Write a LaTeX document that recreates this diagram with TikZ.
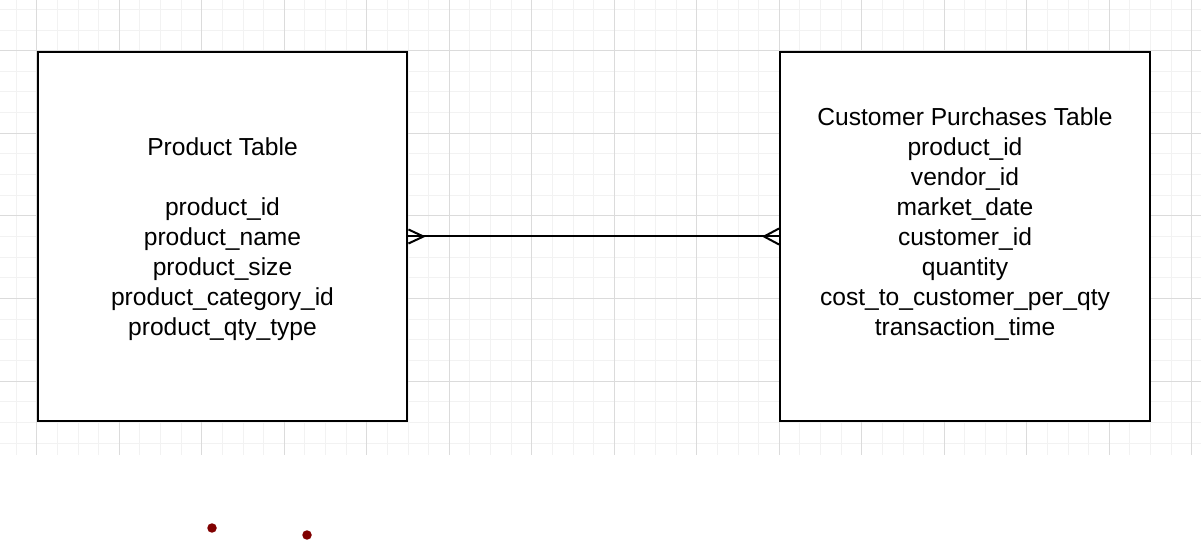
\documentclass[tikz,border=0pt]{standalone}
\usepackage{fontspec}
\setmainfont{Liberation Sans}
\definecolor{dotred}{RGB}{128,0,0}
\begin{document}
\begin{tikzpicture}[x=0.02cm,y=-0.02cm,
    minorline/.style={gray!10,line width=0.02cm},
    majorline/.style={gray!28,line width=0.02cm},
    tablebox/.style={draw,fill=white,line width=0.04cm,minimum width=7.4cm,minimum height=7.4cm,inner sep=0pt,align=center,font=\fontsize{14}{17}\selectfont},
    dot/.style={circle,fill=dotred,inner sep=0pt,minimum size=0.19cm}]
            \useasboundingbox (0,0) rectangle (1201,540);
            % grid
            \foreach \i in {-1,...,56} \draw[minorline] ({36.8+\i*20.625},0) -- ({36.8+\i*20.625},455);
            \foreach \j in {-2,...,19} \draw[minorline] (0,{50.7+\j*20.65}) -- (1201,{50.7+\j*20.65});
            \foreach \i in {0,...,14} \draw[majorline] ({36.8+\i*82.5},0) -- ({36.8+\i*82.5},455);
            \foreach \j in {0,...,4} \draw[majorline] (0,{50.7+\j*82.6}) -- (1201,{50.7+\j*82.6});
            % tables
            \node[tablebox,text depth=0pt] (product) at (222.5,236.5) {Product Table\\[17pt]product\_id\\product\_name\\product\_size\\product\_category\_id\\product\_qty\_type};
            \node[tablebox] (purchases) at (965,236.5) {Customer Purchases Table\\product\_id\\vendor\_id\\market\_date\\customer\_id\\quantity\\cost\_to\_customer\_per\_qty\\transaction\_time\\\mbox{}};
            % relation
            \draw[line width=0.04cm] (product.east) -- (purchases.west);
            \draw[line width=0.04cm] (product.east) ++(0,-7) -- ++(15,7) -- ++(-15,7);
            \draw[line width=0.04cm] (purchases.west) ++(0,-8) -- ++(-15,8) -- ++(15,8);
            \node[dot] (dotleft) at (212,528) {};
            \node[dot] (dotright) at (307,535) {};
        \end{tikzpicture}
\end{document}
